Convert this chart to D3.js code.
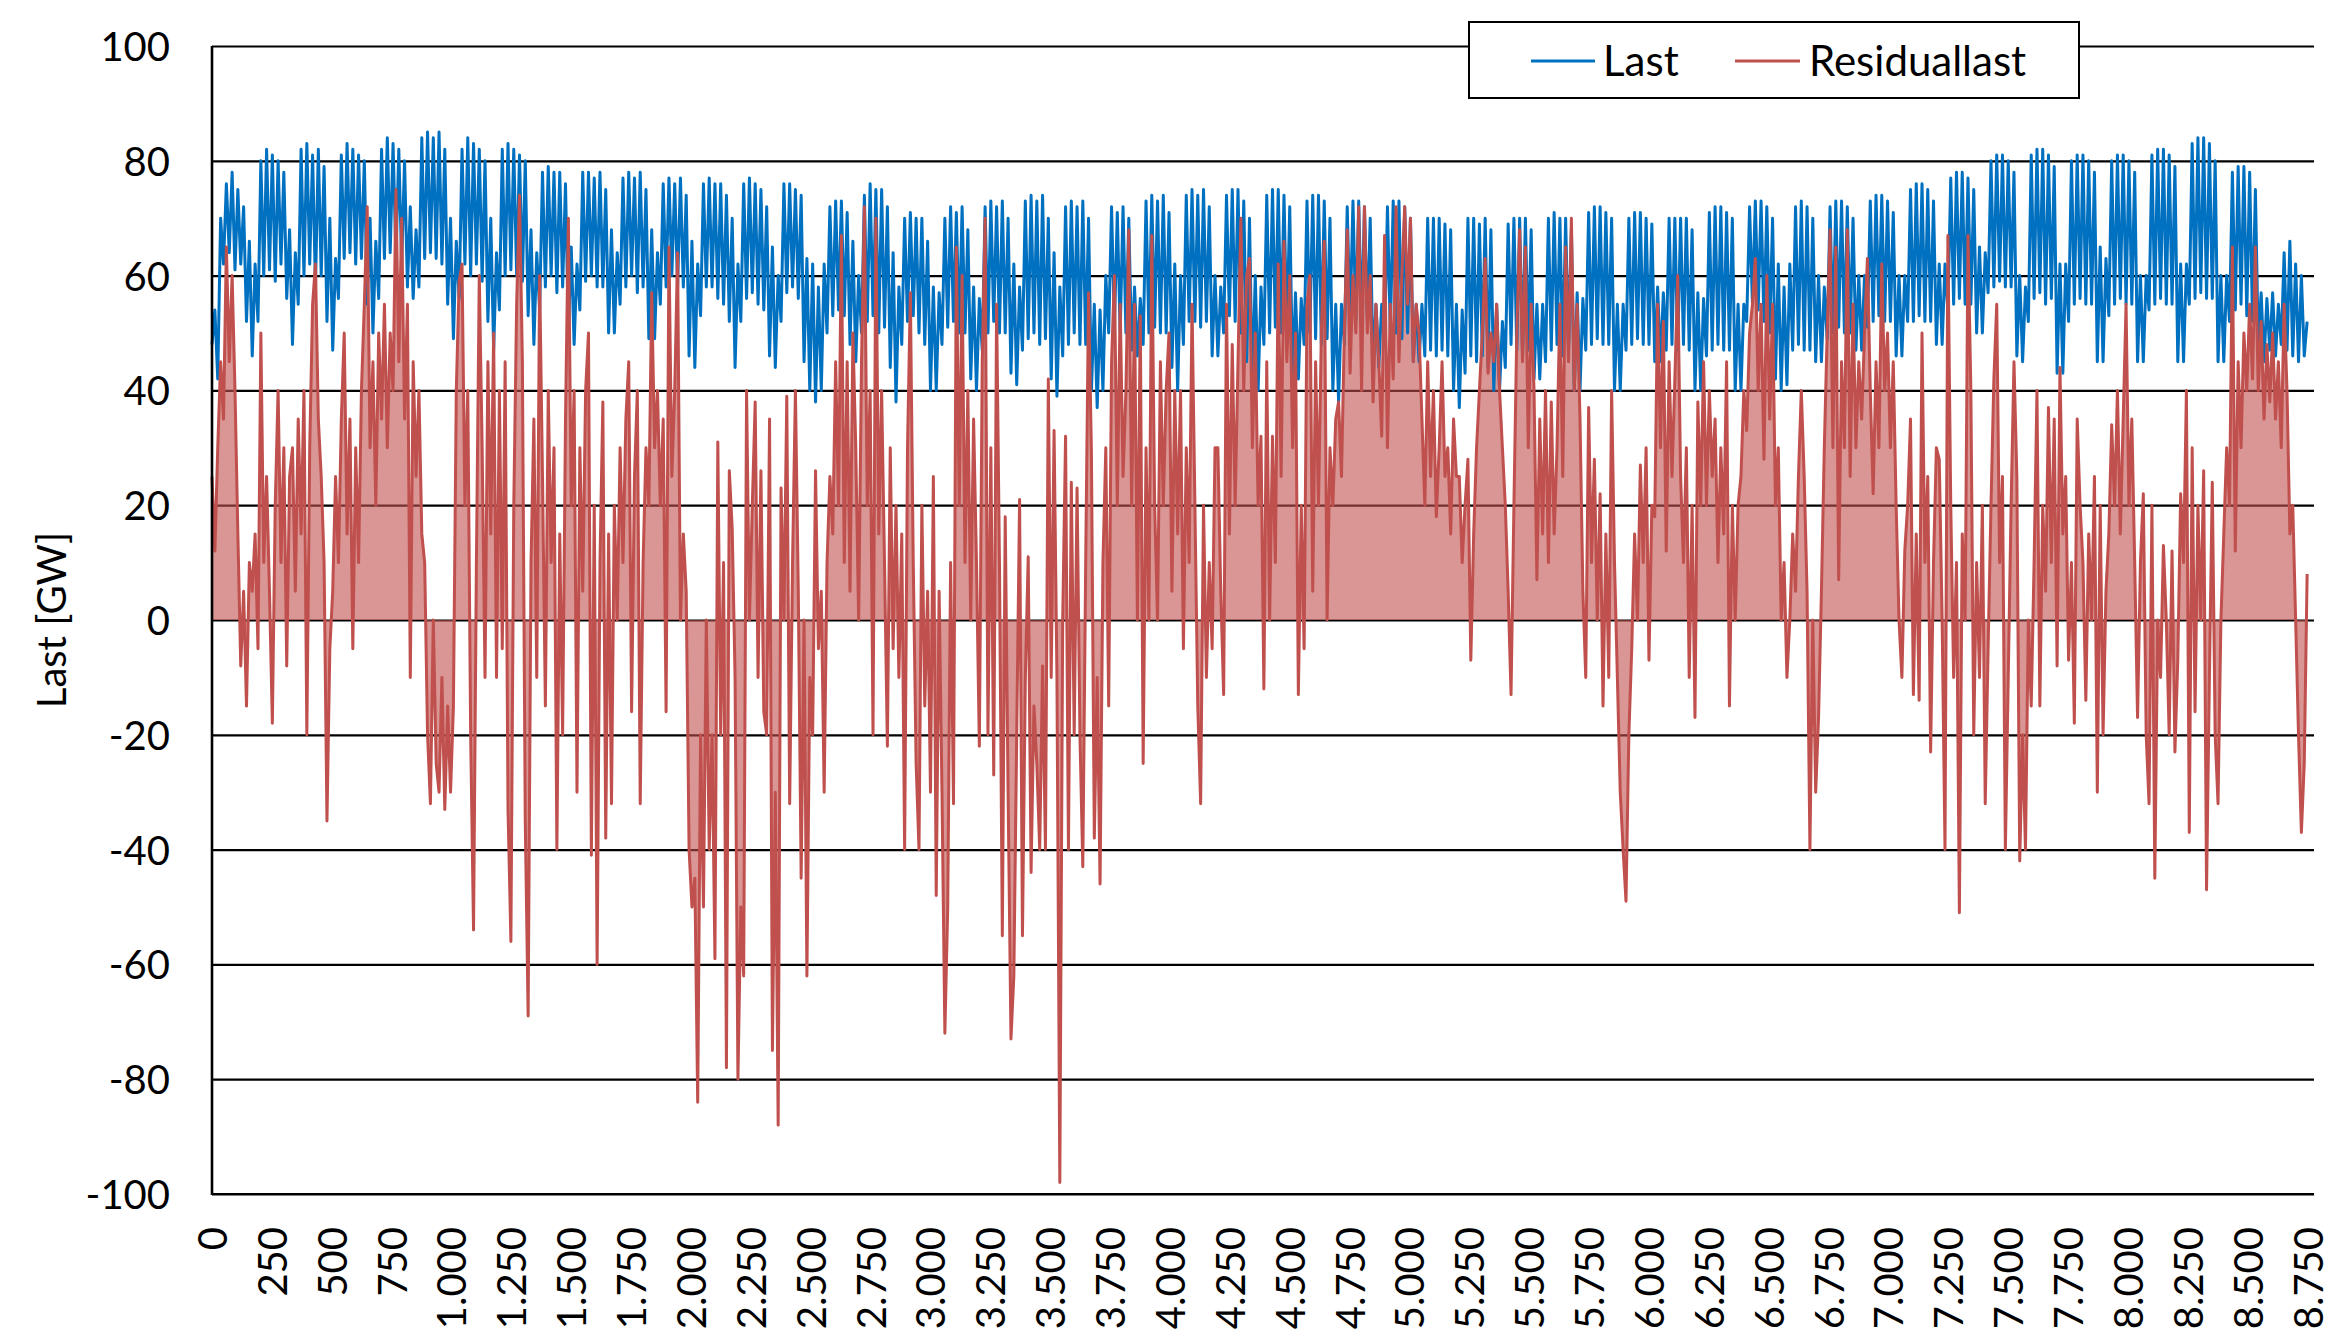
<!DOCTYPE html>
<html>
<head>
<meta charset="utf-8">
<script src="https://cdn.jsdelivr.net/npm/d3@7"></script>
<style>
  html, body { margin: 0; padding: 0; background: #ffffff; }
  svg { display: block; }
  text { font-family: Lato, "Open Sans", sans-serif; fill: #000; }
</style>
</head>
<body>
<svg id="chart" width="2332" height="1339"></svg>
<script>
// ---------------- DATA (one sample every 12 hours) ----------------
const sampleStepHours = 12;
const hoursInYear = 8760;
const seriesNames = ["Last", "Residuallast"];
const yAxisTitle = "Last [GW]";
const xTickValues = [0,250,500,750,1000,1250,1500,1750,2000,2250,2500,2750,3000,3250,3500,3750,4000,4250,4500,4750,5000,5250,5500,5750,6000,6250,6500,6750,7000,7250,7500,7750,8000,8250,8500,8750];
const yTickValues = [-100,-80,-60,-40,-20,0,20,40,60,80,100];

// Last [GW], each row = one week (night / noon pairs)
const lastGW = [
  48,54,42,70,62,76,64,78,61,75,62,72,52,66,
  46,62,52,80,60,82,61,81,59,80,62,78,56,68,
  48,64,55,82,60,83,62,81,58,82,60,79,52,70,
  47,63,56,81,63,83,64,82,62,81,63,80,55,70,
  50,66,56,82,63,84,64,83,63,82,62,80,58,72,
  56,68,58,84,63,85,64,84,63,85,62,82,55,70,
  49,66,56,82,62,84,60,83,62,82,59,80,52,70,
  47,64,54,82,60,83,61,82,60,81,59,80,53,68,
  48,64,54,78,58,79,60,78,57,78,58,76,50,65,
  48,62,54,78,59,78,60,77,58,78,58,75,50,68,
  50,64,55,77,58,78,60,77,57,78,58,75,49,68,
  49,64,55,76,58,77,60,76,58,77,58,74,46,66,
  44,62,53,76,58,77,58,76,56,76,55,74,52,70,
  44,62,52,76,56,77,57,76,55,75,54,72,46,65,
  44,60,52,76,57,76,58,75,56,74,45,63,40,62,
  38,58,40,62,50,72,53,73,54,73,53,71,48,66,
  45,60,50,74,52,76,53,75,50,75,51,72,44,64,
  38,58,48,70,52,71,53,70,50,70,48,66,40,58,
  40,57,48,70,51,72,52,71,50,72,50,68,42,58,
  40,56,47,72,50,73,52,72,50,73,50,70,43,62,
  41,58,47,73,49,74,50,73,48,74,49,70,42,64,
  39,58,46,72,48,73,50,72,48,73,48,70,40,55,
  37,54,40,60,50,72,51,71,50,72,50,70,47,58,
  46,56,48,73,50,74,51,73,50,74,50,71,44,62,
  40,60,48,74,52,75,52,74,51,75,52,72,46,60,
  46,58,50,74,53,75,52,75,50,73,45,70,40,60,
  40,58,48,74,50,75,51,75,50,74,50,72,42,57,
  42,56,48,73,50,74,49,74,48,73,49,70,40,55,
  38,55,48,72,52,73,52,73,51,72,52,70,44,55,
  44,55,48,72,50,73,50,73,49,72,50,70,45,55,
  45,55,46,70,47,70,46,70,47,69,46,68,40,55,
  37,54,43,70,46,70,45,69,46,70,44,68,40,55,
  40,52,44,69,48,70,47,70,46,70,47,68,42,55,
  42,55,45,70,47,71,48,70,46,70,47,68,40,57,
  40,56,47,71,48,72,49,72,48,71,48,70,40,55,
  40,55,47,70,48,71,49,71,48,70,48,69,45,58,
  45,57,47,70,48,70,47,70,48,70,47,68,40,57,
  40,56,46,71,47,72,48,72,47,71,47,70,40,55,
  40,55,52,72,55,73,54,73,52,72,50,70,42,62,
  40,58,41,62,47,72,48,73,47,72,47,70,45,60,
  45,58,49,72,50,73,51,73,50,72,50,70,47,60,
  47,60,51,73,52,74,53,74,52,73,52,71,46,60,
  46,60,52,75,52,76,53,76,52,75,52,73,48,62,
  48,62,54,77,55,78,56,78,55,77,55,75,50,65,
  50,64,57,80,58,81,59,81,58,80,58,78,46,60,
  45,58,52,81,56,82,57,82,55,81,56,79,43,62,
  43,62,52,80,55,81,56,81,55,80,55,78,45,65,
  45,63,53,80,55,81,56,81,55,80,55,78,45,60,
  45,60,54,81,55,82,56,82,55,81,55,79,45,62,
  45,62,55,83,56,84,57,84,56,83,56,80,45,60,
  45,60,52,78,54,79,55,79,53,78,52,75,48,57,
  45,56,47,57,46,55,48,64,47,66,46,62,45,60,
  46,52
];

// Residuallast [GW], same sampling
const residualGW = [
  25,12,30,45,35,65,45,60,40,15,-8,5,-15,10,
  5,15,-5,50,10,25,5,-18,20,40,10,30,-8,25,
  30,5,35,15,40,-20,30,55,62,35,25,10,-35,-5,
  5,25,10,35,50,15,35,-5,30,10,40,55,72,30,
  45,20,50,35,55,30,50,40,75,45,70,35,55,-10,
  45,25,40,15,10,-20,-32,0,-25,-30,-10,-33,-15,-30,
  -15,40,59,62,20,40,-20,-54,10,60,30,-10,45,15,
  50,-10,40,-5,45,-33,-56,20,55,74,45,-35,-69,10,
  35,-10,60,25,-15,40,10,30,-40,15,-20,35,70,20,
  40,-30,30,5,40,50,-41,20,-60,10,38,-38,15,-32,
  20,0,30,10,35,45,-16,25,40,-32,10,30,20,57,
  30,40,20,35,-16,65,25,40,64,0,15,5,-40,-50,
  -45,-84,-20,-50,0,-40,-20,-59,31,-20,10,-78,26,16,
  -10,-80,-50,-62,40,0,20,38,-10,26,-16,-20,35,-75,
  -30,-88,23,0,39,-32,10,40,5,-45,0,-62,-10,-20,
  26,-5,5,-30,10,25,15,45,20,67,10,45,5,50,
  30,0,45,72,20,40,-20,70,15,40,10,-22,30,-5,
  20,-10,15,-40,30,57,10,-25,-40,20,-15,5,-30,25,
  -48,5,-30,-72,-50,10,-32,65,20,60,10,40,0,35,
  10,-22,45,70,-20,30,-27,55,10,-55,18,-30,-73,-62,
  -20,21,-55,-10,11,-44,-15,-25,-40,-8,-40,42,-10,33,
  -10,-98,0,32,-40,24,-20,23,-20,-43,10,57,29,-38,
  -10,-46,10,30,-15,45,60,20,55,25,40,68,20,55,
  0,53,-25,30,0,67,20,0,45,20,40,50,5,40,
  15,40,-5,30,10,55,20,-15,-32,20,-10,10,-5,30,
  30,5,-13,55,15,48,20,45,70,40,60,63,30,50,
  20,32,-12,45,0,32,10,62,25,66,45,60,30,50,
  -13,20,-5,55,60,5,45,20,50,66,0,30,20,35,
  38,25,50,68,43,60,50,72,40,72,50,60,38,55,
  45,32,67,30,55,42,72,45,60,72,55,70,45,55,
  50,35,20,45,25,40,18,30,45,25,30,15,35,25,
  25,10,20,28,-7,15,30,40,50,63,43,50,45,55,
  40,30,20,5,-13,20,50,68,45,65,30,55,40,7,
  35,15,40,10,38,15,30,55,25,65,45,70,40,55,
  35,5,-10,37,10,28,0,22,-15,15,-10,40,10,-10,
  -30,-40,-49,-20,-5,15,0,27,10,30,-7,20,18,55,
  30,52,12,45,25,42,60,25,10,30,-10,20,-17,38,
  20,45,20,40,25,35,10,30,15,45,-15,20,0,20,
  25,40,33,50,55,63,40,55,28,60,35,55,20,30,
  0,10,-10,0,15,5,25,40,25,5,-40,0,-30,-17,
  5,30,50,68,30,65,7,45,30,68,25,55,30,45,
  35,50,63,40,22,45,30,62,40,50,30,45,20,0,
  -10,12,20,35,-13,15,-14,50,10,25,-23,10,30,28,
  0,-40,67,20,-10,10,-51,15,0,67,40,-20,10,-10,
  20,-32,-5,20,42,55,10,25,-40,-10,20,45,25,-42,
  -20,-40,0,-15,10,40,-15,20,5,37,10,35,-8,44,
  15,25,-7,10,-18,35,20,10,-14,15,0,25,-30,20,
  -20,5,15,34,20,40,15,35,55,20,35,10,-17,10,
  22,-20,-32,20,-45,0,-10,13,0,-20,12,-23,-7,22,
  10,40,-37,30,-16,20,0,26,-47,-10,24,-20,-32,0,
  15,30,20,65,12,45,30,50,40,55,42,65,40,52,
  35,48,38,50,35,45,30,55,40,15,20,0,-20,-37,
  -25,8
];

// ---------------- LAYOUT / STYLE ----------------
const W = 2332, H = 1339;
const plot = { left: 212, right: 2314, dataRight: 2310, top: 46, bottom: 1194 };
const colors = { last: "#0070C0", residual: "#C0504D", axis: "#000000" };
const fontSize = 40;
const legendFontSize = 42;

const svg = d3.select("#chart");

const x = d3.scaleLinear().domain([0, hoursInYear]).range([plot.left, plot.dataRight]);
const y = d3.scaleLinear().domain([-100, 100]).range([plot.bottom, plot.top]);

const deLocale = d3.formatLocale({ decimal: ",", thousands: ".", grouping: [3], currency: ["", " €"], minus: "-" });
const fmtX = deLocale.format(",d");
const fmtY = deLocale.format("d");

// Horizontal gridlines + y labels
const yAxis = d3.axisLeft(y)
  .tickValues(yTickValues)
  .tickSize(-(plot.right - plot.left))
  .tickPadding(42)
  .tickFormat(fmtY);

const gy = svg.append("g")
  .attr("transform", `translate(${plot.left},0)`)
  .call(yAxis);
gy.select(".domain").remove();
gy.selectAll(".tick line").attr("stroke", colors.axis).attr("stroke-width", 2.2);
gy.selectAll(".tick text")
  .style("font-size", fontSize + "px")
  .style("font-family", "Lato")
  .attr("fill", "#000")
  .attr("dy", "0.36em");

// Series
const hourOf = (i) => i * sampleStepHours;

const area = d3.area()
  .x((d, i) => x(hourOf(i)))
  .y0(y(0))
  .y1(d => y(d));

svg.append("path")
  .datum(residualGW)
  .attr("d", area)
  .attr("fill", colors.residual)
  .attr("fill-opacity", 0.6)
  .attr("stroke", "none");

const line = d3.line()
  .x((d, i) => x(hourOf(i)))
  .y(d => y(d));

svg.append("path")
  .datum(lastGW)
  .attr("d", line)
  .attr("fill", "none")
  .attr("stroke", colors.last)
  .attr("stroke-width", 3)
  .attr("stroke-linejoin", "round");

svg.append("path")
  .datum(residualGW)
  .attr("d", line)
  .attr("fill", "none")
  .attr("stroke", colors.residual)
  .attr("stroke-width", 3)
  .attr("stroke-linejoin", "round");

// X axis (bottom line at -100) with rotated labels
const xAxis = d3.axisBottom(x)
  .tickValues(xTickValues)
  .tickSize(0)
  .tickFormat(fmtX);

const gx = svg.append("g")
  .attr("transform", `translate(0,${plot.bottom})`)
  .call(xAxis);
gx.select(".domain").remove();
svg.append("line")
  .attr("x1", plot.left).attr("x2", plot.right)
  .attr("y1", plot.bottom).attr("y2", plot.bottom)
  .attr("stroke", colors.axis).attr("stroke-width", 2.2);
gx.selectAll(".tick text")
  .style("font-size", fontSize + "px")
  .style("font-family", "Lato")
  .attr("fill", "#000")
  .attr("transform", "rotate(-90)")
  .attr("text-anchor", "end")
  .attr("x", -33)
  .attr("y", 0)
  .attr("dy", "0.36em");

// Left axis line
svg.append("line")
  .attr("x1", plot.left).attr("x2", plot.left)
  .attr("y1", plot.top).attr("y2", plot.bottom + 1)
  .attr("stroke", colors.axis).attr("stroke-width", 2.6);

// Y axis title
svg.append("text")
  .attr("transform", `translate(52,${(plot.top + plot.bottom) / 2}) rotate(-90)`)
  .attr("text-anchor", "middle")
  .attr("dy", "0.36em")
  .style("font-size", fontSize + "px")
  .text(yAxisTitle);

// Legend
const lg = svg.append("g");
lg.append("rect")
  .attr("x", 1469).attr("y", 22).attr("width", 610).attr("height", 76)
  .attr("fill", "#fff").attr("stroke", "#000").attr("stroke-width", 2);
const legendItems = [
  { name: seriesNames[0], color: colors.last, x0: 1531, x1: 1595, tx: 1603 },
  { name: seriesNames[1], color: colors.residual, x0: 1735, x1: 1800, tx: 1809 }
];
legendItems.forEach(it => {
  lg.append("line")
    .attr("x1", it.x0).attr("x2", it.x1).attr("y1", 61).attr("y2", 61)
    .attr("stroke", it.color).attr("stroke-width", 3);
  lg.append("text")
    .attr("x", it.tx).attr("y", 61).attr("dy", "0.36em")
    .style("font-size", legendFontSize + "px")
    .text(it.name);
});
</script>
</body>
</html>
